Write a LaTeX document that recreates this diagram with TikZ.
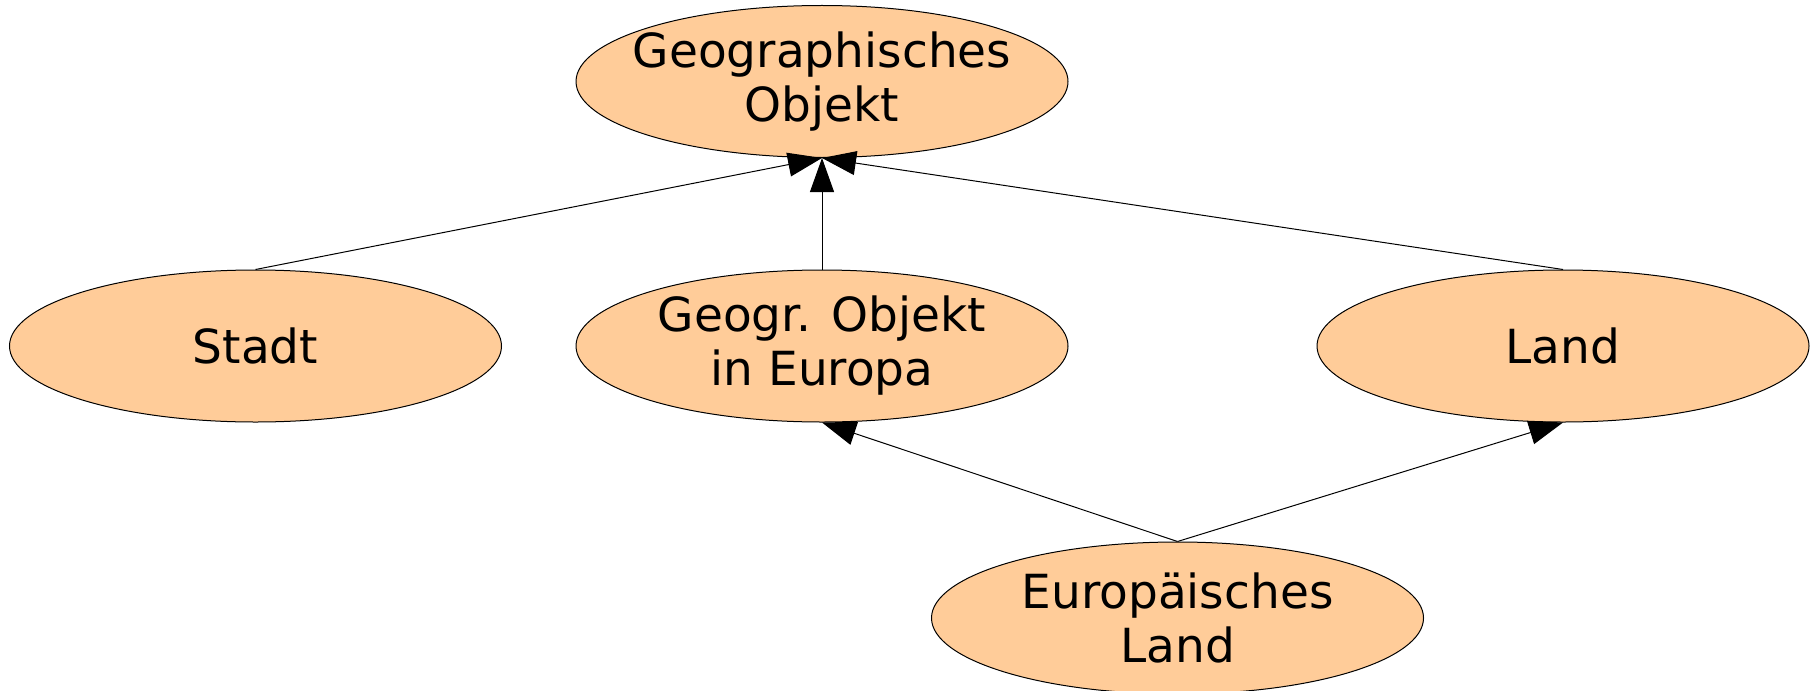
\documentclass[tikz,border=0pt]{standalone}
\usepackage{fontspec}
\setmainfont{DejaVu Sans}
\usetikzlibrary{shapes.geometric,arrows.meta}
\definecolor{boxfill}{RGB}{255,204,153}
\newcommand{\zw}[1]{\makebox[0pt]{#1}}
\tikzset{
  cls/.style={ellipse, draw=black, line width=0.5pt, fill=boxfill,
    minimum width=246pt, minimum height=76pt, inner sep=0pt,
    align=center, font=\fontsize{23.5}{27}\selectfont},
  inh/.style={draw=black, line width=0.5pt, -{Triangle[length=17pt,width=12pt]}}
}
\begin{document}
\begin{tikzpicture}[x=0.5pt,y=-0.5pt]
\useasboundingbox (0,0) rectangle (1818,690);
\clip (0,0) rectangle (1818,690);
\node[cls] (geo) at (822,81.5) {\zw{Geographisches}\\\zw{Objekt}};
\node[cls] (stadt) at (255.5,346) {Stadt};
\node[cls] (geoeu) at (822,346) {\zw{Geogr. Objekt}\\\zw{in Europa}};
\node[cls] (land) at (1563,346) {Land};
\node[cls] (euland) at (1177.5,618) {\zw{Europäisches}\\\zw{Land}};
\draw[inh] (stadt.north) -- (geo.south);
\draw[inh] (geoeu.north) -- (geo.south);
\draw[inh] (land.north) -- (geo.south);
\draw[inh] (euland.north) -- (geoeu.south);
\draw[inh] (euland.north) -- (land.south);
\end{tikzpicture}
\end{document}
